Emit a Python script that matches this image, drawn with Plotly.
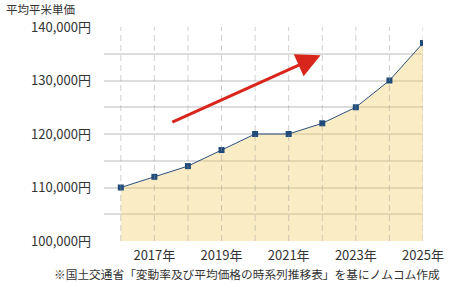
import plotly.graph_objects as go

years = [2016, 2017, 2018, 2019, 2020, 2021, 2022, 2023, 2024, 2025]
prices = [110000, 112000, 114000, 117000, 120000, 120000, 122000, 125000, 130000, 137000]
xtick_text = ["" if y % 2 == 0 else f"{y}年" for y in years]
ytick_vals = [100000, 105000, 110000, 115000, 120000, 125000, 130000, 135000, 140000]
ytick_text = [f"{v:,}円" if v % 10000 == 0 else "" for v in ytick_vals]
arrow_from = (2017.49, 122100)
arrow_to = (2021.95, 134700)

FONT = "Noto Sans CJK JP"
TOP = 27

fig = go.Figure()
fig.add_trace(go.Scatter(
    x=years, y=prices, mode="lines+markers",
    line=dict(color="#2b4f7e", width=1),
    marker=dict(symbol="square", size=6, color="#1f4a7a"),
    fill="tozeroy", fillcolor="rgba(240,200,90,0.35)",
    hoverinfo="skip",
))

# dashed vertical guides at every year, drawn above the fill
for yr in years:
    fig.add_shape(type="line", xref="x", yref="paper", x0=yr, x1=yr, y0=0, y1=1,
                  line=dict(color="rgba(150,150,150,0.45)", width=1, dash="6px,4px"),
                  layer="above")

fig.add_annotation(
    x=arrow_to[0], y=arrow_to[1], ax=arrow_from[0], ay=arrow_from[1],
    xref="x", yref="y", axref="x", ayref="y",
    showarrow=True, arrowhead=2, arrowsize=1.6, arrowwidth=3,
    arrowcolor="#d9261c", text="", standoff=0,
)

fig.add_annotation(
    x=0, y=1.0, xref="paper", yref="paper", yanchor="top", xanchor="left",
    xshift=-104 + 5, yshift=TOP,
    text="平均平米単価", showarrow=False, borderpad=0,
    font=dict(family=FONT, size=11.5, color="#333333"),
)
fig.add_annotation(
    x=1.0, y=0, xref="paper", yref="paper", xanchor="right", yanchor="bottom",
    xshift=19, yshift=-43,
    text="※国土交通省「変動率及び平均価格の時系列推移表」を基にノムコム作成",
    showarrow=False,
    font=dict(family=FONT, size=11.7, color="#333333"),
)

fig.update_layout(
    width=456, height=284,
    margin=dict(l=104, r=23, t=TOP, b=43),
    paper_bgcolor="white", plot_bgcolor="white",
    showlegend=False,
    font=dict(family=FONT, size=13, color="#333333"),
    xaxis=dict(
        range=[2015.5, 2025], tickvals=years, ticktext=xtick_text,
        showgrid=False,
        zeroline=False, showline=False, ticks="", ticklabelstandoff=5,
        fixedrange=True,
    ),
    yaxis=dict(
        range=[100000, 140000], tickvals=ytick_vals, ticktext=ytick_text,
        showgrid=True, gridcolor="#dddddd", gridwidth=1.5,
        zeroline=False, showline=False, ticks="", ticklabelstandoff=12,
        fixedrange=True,
    ),
)

fig.write_html("out.html")
